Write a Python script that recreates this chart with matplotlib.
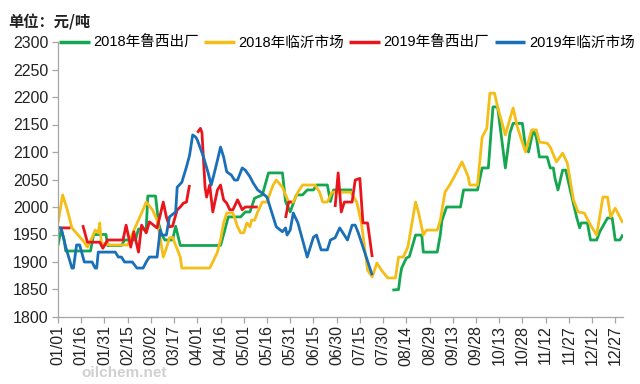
import numpy as np
import matplotlib
matplotlib.use("Agg")
import matplotlib.pyplot as plt

plt.rcParams['font.family'] = ['Liberation Sans', 'Noto Sans CJK SC', 'DejaVu Sans']

# ---- data (day of year offset from 01/01, value in 元/吨); None = gap ----
tick_labels = ["01/01", "01/16", "01/31", "02/15", "03/02", "03/17", "04/01", "04/16",
               "05/01", "05/16", "05/31", "06/15", "06/30", "07/15", "07/30", "08/14",
               "08/29", "09/13", "09/28", "10/13", "10/28", "11/12", "11/27", "12/12", "12/27"]

series_names = ["2018年鲁西出厂", "2018年临沂市场", "2019年鲁西出厂", "2019年临沂市场"]

luxi_2018_days = [0, 2, 4, 5, 21, 23, 31, 32, 41, 43, 50, 52, 57, 58, 63, 65, 67, 69, 74, 76, 79,
                  105, 107, 110, 118, 121, 124, 127, 132, 136, 145, 147, 150, 154, 158, 161, 165,
                  167, 174, 176, 178, 190, 191,
                  216, 220, 221, 222, 225, 227, 231, 235, 236, 245, 247, 248, 251, 260, 262, 271,
                  274, 278, 281, 284, 289, 292, 294, 300, 302, 304, 307, 309, 311, 316, 318, 320,
                  321, 323, 326, 328, 332, 335, 337, 338, 342, 344, 348, 350, 355, 358, 360, 363, 365]
luxi_2018_vals = [1930, 1960, 1940, 1920, 1920, 1950, 1950, 1930, 1930, 1940, 1940, 1960, 1960, 2020, 2020, 1970, 1950, 1940, 1940, 1965, 1930,
                  1930, 1950, 1982, 1982, 1991, 1991, 2016, 2022, 2062, 2062, 2010, 1991, 2022, 2022, 2031, 2031,
                  2040, 2040, 2010, 2031, 2031, None,
                  1849, 1850, 1873, 1889, 1907, 1910, 1949, 1949, 1918, 1918, 1950, 1975, 2000, 2000, 2031, 2031,
                  2071, 2071, 2182, 2182, 2071, 2135, 2152, 2152, 2109, 2100, 2140, 2127, 2091, 2091, 2071, 2071,
                  2053, 2031, 2067, 2067, 2018, 1982, 1962, 1971, 1971, 1940, 1940, 1955, 1980, 1980, 1940, 1940, 1950]

linyi_2018_days = [0, 3, 6, 9, 13, 17, 19, 22, 24, 26, 27, 28, 34, 45, 50, 54, 57, 61, 64, 66, 68, 70,
                   72, 74, 79, 80, 98, 100, 103, 105, 107, 109, 113, 116, 118, 120, 122, 124, 125, 127,
                   129, 132, 135, 137, 139, 141, 145, 147, 149, 152, 155, 158, 166, 169, 171, 174, 177,
                   189, 193, 196, 200, 203, 206, 209, 213, 218, 220, 223, 226, 231, 233, 236, 238, 245,
                   247, 250, 253, 256, 261, 265, 266, 271, 274, 277, 279, 282, 284, 289, 294, 297, 302,
                   306, 309, 311, 316, 318, 322, 326, 329, 333, 336, 340, 344, 348, 352, 355, 357, 360, 364, 365]
linyi_2018_vals = [1971, 2022, 1995, 1962, 1949, 1936, 1927, 1944, 1958, 1953, 1971, 1934, 1931, 1931, 1964, 1989, 2009, 1995, 1976, 1944, 1909, 1925,
                   1944, 1945, 1909, 1889, 1889, 1900, 1918, 1940, 1971, 1989, 1989, 1964, 1953, 1953, 1971, 1964, 1976, 1976,
                   1991, 2009, 2009, 2025, 2040, 2049, 2036, 2022, 2009, 2009, 2027, 2040, 2040, 2027, 2009, 2009, 2027,
                   2027, 2009, 1971, 1885, 1873, 1898, 1885, 1871, 1871, 1909, 1909, 1927, 2009, 1989, 1949, 1958, 1958,
                   1976, 2027, 2040, 2055, 2082, 2055, 2040, 2040, 2127, 2143, 2207, 2207, 2182, 2131, 2180, 2143, 2100,
                   2140, 2140, 2118, 2116, 2109, 2082, 2098, 2080, 2013, 1991, 1989, 1967, 1949, 2018, 2018, 1982, 1998, 1976, 1971]

luxi_2019_days = [0, 8, 9,
                  16, 19, 27, 29, 32, 42, 44, 47, 49, 52, 54, 57, 59, 64, 66, 68, 70, 72, 74, 77, 79,
                  81, 83, 84, 85, 86,
                  90, 92, 93, 95, 96, 98, 100, 103, 105, 107, 109, 111, 113, 116, 119, 121, 129, 130,
                  147, 149, 151, 152,
                  179, 181, 183, 185, 190, 192, 195, 197, 200, 203]
luxi_2019_vals = [1962, 1962, None,
                  1967, 1936, 1936, 1925, 1940, 1940, 1967, 1927, 1955, 1918, 1967, 1953, 1973, 1962, 1985, 2009, 1982, 1964, 1965, 1995, 2000,
                  2007, 2009, 2025, 2040, None,
                  2135, 2143, 2135, 2036, 2018, 2040, 1991, 2031, 2040, 2013, 2007, 1995, 1995, 2013, 1995, 2000, 2000, None,
                  1980, 2009, 2009, None,
                  2000, 2062, 1991, 2009, 2009, 2049, 2052, 1971, 1971, 1909]

linyi_2019_days = [0, 2, 5, 9, 10, 12, 14, 17, 22, 24, 25, 26, 37, 39, 41, 43, 48, 51, 55, 57, 59, 64,
                   66, 67, 70, 72, 76, 77, 80, 83, 85, 87, 89, 90, 94, 97, 99, 101, 103, 105, 107, 109,
                   112, 114, 116, 119, 121, 124, 126, 129, 132, 135, 137, 139, 141, 145, 147, 148, 150,
                   152, 155, 158, 161, 165, 167, 170, 174, 176, 179, 182, 187, 190, 192, 194, 196, 203]
linyi_2019_vals = [1962, 1962, 1927, 1889, 1889, 1931, 1931, 1900, 1900, 1889, 1889, 1918, 1918, 1909, 1909, 1900, 1900, 1889, 1889, 1900, 1909, 1909,
                   1958, 1949, 1949, 1982, 1991, 2036, 2045, 2073, 2094, 2131, 2127, 2122, 2091, 2062, 2040, 2062, 2085, 2109, 2091, 2064,
                   2058, 2049, 2049, 2071, 2067, 2055, 2044, 2031, 2025, 2018, 2000, 1982, 1964, 1955, 1962, 1949, 1958,
                   1989, 1971, 1940, 1909, 1945, 1949, 1922, 1922, 1940, 1944, 1962, 1940, 1967, 1967, 1953, 1936, 1876]

colors = ["#14A651", "#F5BE16", "#E8161C", "#1A6FB9"]


def to_arr(v):
    return np.array([np.nan if x is None else x for x in v], dtype=float)


fig = plt.figure(figsize=(6.4, 3.84), dpi=100)
ax = fig.add_axes([58 / 640, 1 - 317 / 384, (623 - 58) / 640, (317 - 42) / 384])

data = [(luxi_2018_days, luxi_2018_vals), (linyi_2018_days, linyi_2018_vals),
        (luxi_2019_days, luxi_2019_vals), (linyi_2019_days, linyi_2019_vals)]
for (d, v), c, n in zip(data, colors, series_names):
    ax.plot(d, to_arr(v), color=c, lw=2.0, label=n, solid_joinstyle='round', solid_capstyle='butt')

ax.set_xlim(0, 365)
ax.set_ylim(1800, 2300)
ax.set_yticks(np.arange(1800, 2301, 50))
ax.set_xticks(np.arange(0, 361, 15))
ax.set_xticklabels(tick_labels, rotation=90)
for s in ["top", "right"]:
    ax.spines[s].set_visible(False)
for s in ["left", "bottom"]:
    ax.spines[s].set_color("#A6A6A6")
    ax.spines[s].set_linewidth(0.9)
ax.tick_params(axis='both', colors="#A6A6A6", length=4, width=0.9, labelsize=11.5, labelcolor="#222222")
ax.tick_params(axis='y', pad=3)
ax.tick_params(axis='x', pad=2)

leg = fig.legend(loc='center', bbox_to_anchor=(0.542, 1 - 43 / 384), bbox_transform=fig.transFigure,
                 ncol=4, frameon=False, fontsize=10.5, handlelength=2.1, handletextpad=0.25,
                 columnspacing=0.35, borderpad=0, borderaxespad=0)
for line in leg.get_lines():
    line.set_linewidth(2.5)

fig.text(8 / 640, 1 - 22 / 384, "单位：元/吨", fontsize=11, fontweight='bold',
         family=['Noto Sans CJK SC', 'DejaVu Sans'], va='center', ha='left', color="#222222")

fig.text(124 / 640, 1 - 373 / 384, "oilchem.net", fontsize=11, fontweight='bold',
         color="#D0D0D0", ha='center', va='center', zorder=0)

fig.savefig("out.png", dpi=100)
